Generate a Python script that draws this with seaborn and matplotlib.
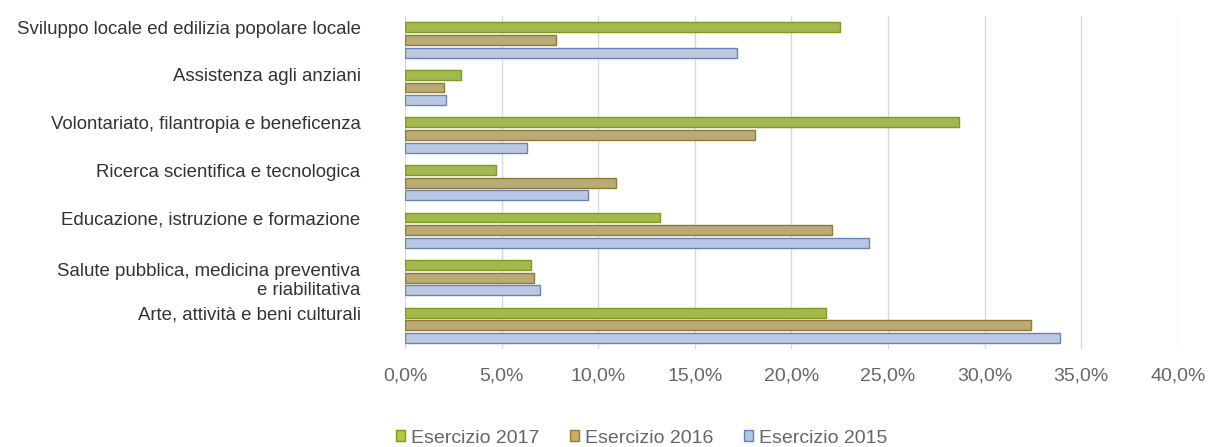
import matplotlib
matplotlib.use("Agg")
import matplotlib.pyplot as plt
import matplotlib.transforms as mtransforms
import pandas as pd
import seaborn as sns

# Settori (dall'alto verso il basso)
CATEGORIES = [
    "Sviluppo locale ed edilizia popolare locale",
    "Assistenza agli anziani",
    "Volontariato, filantropia e beneficenza",
    "Ricerca scientifica e tecnologica",
    "Educazione, istruzione e formazione",
    "Salute pubblica, medicina preventiva\ne riabilitativa",
    "Arte, attività e beni culturali",
]
SERIES = ["Esercizio 2017", "Esercizio 2016", "Esercizio 2015"]
VALUES_2017 = [22.5, 2.9, 28.7, 4.7, 13.2, 6.5, 21.8]
VALUES_2016 = [7.8, 2.0, 18.1, 10.9, 22.1, 6.7, 32.4]
VALUES_2015 = [17.2, 2.1, 6.3, 9.5, 24.0, 7.0, 33.9]
X_TICKS = [0, 5, 10, 15, 20, 25, 30, 35, 40]

COLORS = {"Esercizio 2017": "#afcb3a", "Esercizio 2016": "#c6b068", "Esercizio 2015": "#b3c6e8"}
EDGES = {"Esercizio 2017": "#7f9a22", "Esercizio 2016": "#8f7a3a", "Esercizio 2015": "#6a82b8"}

rows = []
for name, vals in zip(SERIES, [VALUES_2017, VALUES_2016, VALUES_2015]):
    for cat, v in zip(CATEGORIES, vals):
        rows.append({"settore": cat, "serie": name, "valore": v})
df = pd.DataFrame(rows)

sns.set_style("white")
plt.rcParams["font.family"] = ["Liberation Sans", "DejaVu Sans"]

fig = plt.figure(figsize=(12.15, 4.47), dpi=100)
ax = fig.add_axes([0.3333, 0.219, 0.636, 0.745])

sns.barplot(data=df, x="valore", y="settore", hue="serie", order=CATEGORIES,
            hue_order=SERIES, palette=COLORS, orient="h", width=0.8, gap=0.22,
            ax=ax, legend=False)

for cont, name in zip(ax.containers, SERIES):
    for bar in cont:
        bar.set_edgecolor(EDGES[name])
        bar.set_linewidth(1.0)

ax.set_xlim(0, 40)
ax.set_xticks(X_TICKS)
ax.set_xticklabels([f"{t:.1f}%".replace(".", ",") for t in X_TICKS])
ax.set_xlabel("")
ax.set_ylabel("")
ax.grid(axis="x", color="#d9d9d9", linewidth=1.0)
ax.set_axisbelow(True)
for s in ax.spines.values():
    s.set_visible(False)
ax.tick_params(axis="x", length=0, pad=13, labelsize=14, labelcolor="#666666")
ax.tick_params(axis="y", length=0, pad=32, labelsize=13.4, labelcolor="#333333")

# Etichette leggermente sopra il centro del gruppo (come nell'originale)
for lab in ax.get_yticklabels():
    dy = 0 if "\n" in lab.get_text() else 9 / 72
    lab.set_transform(lab.get_transform() + mtransforms.ScaledTranslation(0, dy, fig.dpi_scale_trans))
    lab.set_multialignment("right")

handles = [plt.Rectangle((0, 0), 1, 1, facecolor=COLORS[s], edgecolor=EDGES[s]) for s in SERIES]
fig.legend(handles, SERIES, loc="center", bbox_to_anchor=(0.528, 0.02), ncol=3,
           frameon=False, fontsize=14, labelcolor="#666666", handlelength=0.45,
           handleheight=0.45, handletextpad=0.3, columnspacing=1.6)

fig.savefig("out.png", dpi=100)
